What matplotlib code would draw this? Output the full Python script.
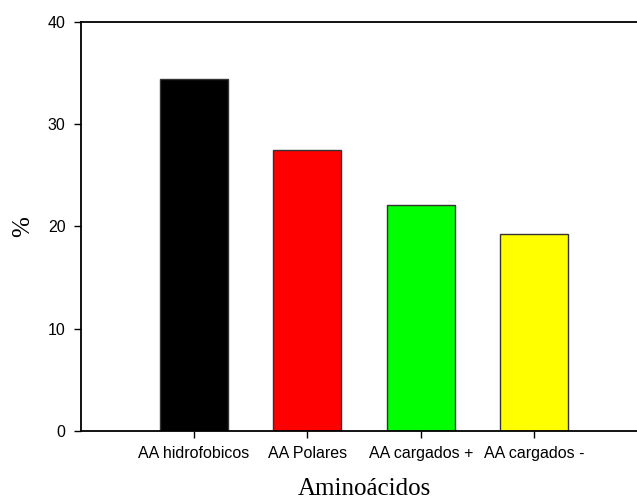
import matplotlib.pyplot as plt

# Datos
categorias = ["AA hidrofobicos", "AA Polares", "AA cargados +", "AA cargados -"]
porcentajes = [34.4, 27.5, 22.1, 19.25]
colores = ["#000000", "#ff0000", "#00ff00", "#ffff00"]

fig = plt.figure(figsize=(6.37, 5.01), dpi=100)
# el eje derecho queda fuera de la imagen, como en el original
ax = fig.add_axes([0.1267, 0.1403, 0.8898, 0.8157])

x = range(len(categorias))
ax.bar(x, porcentajes, width=0.6, color=colores, edgecolor="#333333", linewidth=1.0)

ax.set_xlim(-1, 4)
ax.set_ylim(0, 40)
ax.set_yticks([0, 10, 20, 30, 40])
ax.set_xticks(list(x))
ax.set_xticklabels(categorias)

for lado in ["left", "bottom", "top"]:
    ax.spines[lado].set_linewidth(1.3)
ax.spines["right"].set_visible(False)

ax.tick_params(axis="both", direction="out", length=5, width=1, pad=6,
               labelsize=11.5)
for t in ax.get_xticklabels() + ax.get_yticklabels():
    t.set_family(["Liberation Sans", "DejaVu Sans"])

ax.set_xlabel("Aminoácidos", fontsize=18, family=["Liberation Serif", "DejaVu Serif"], labelpad=12)
ax.set_ylabel("%", fontsize=18, family=["Liberation Serif", "DejaVu Serif"], labelpad=10)

plt.savefig("out.png", dpi=100)
